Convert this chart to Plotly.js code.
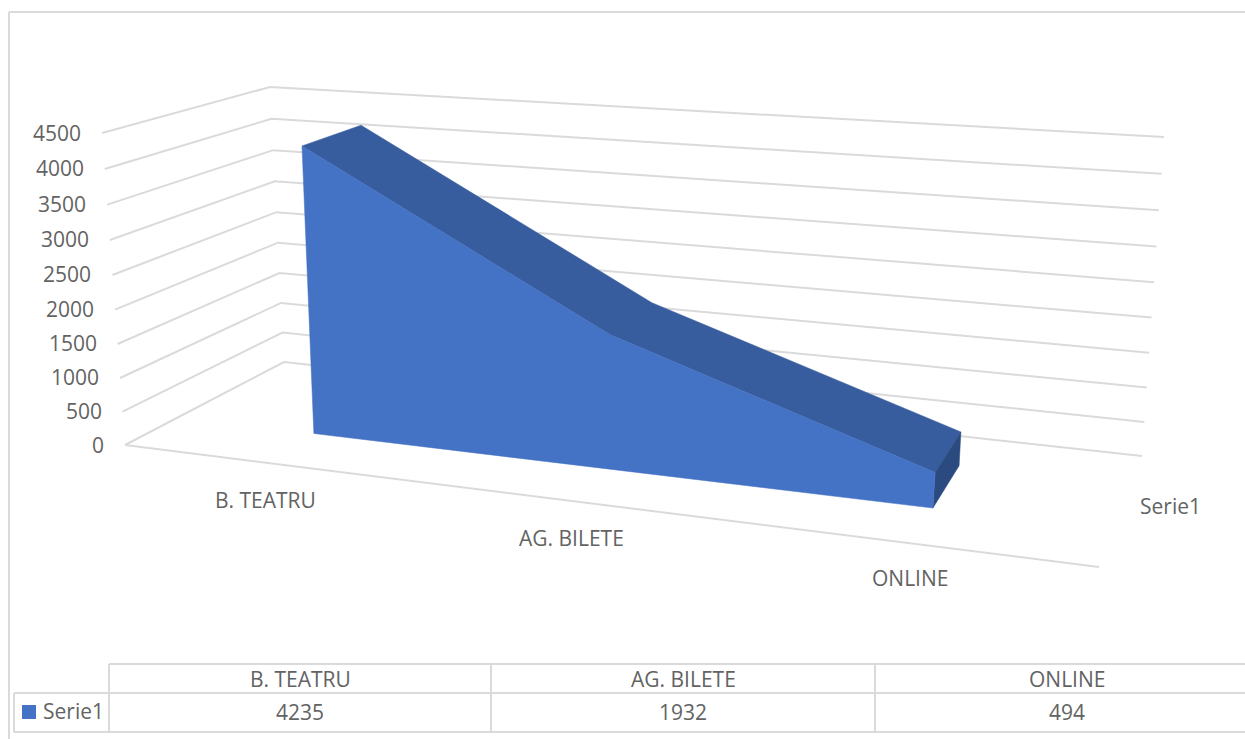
<!DOCTYPE html>
<html><head><meta charset="utf-8">
<script src="https://cdn.plot.ly/plotly-3.0.1.min.js"></script>
<style>html,body{margin:0;padding:0;background:#fff}#c{width:1245px;height:739px}</style>
</head><body><div id="c"></div>
<script>
// ---- data ----
const categories = ['B. TEATRU', 'AG. BILETE', 'ONLINE'];
const seriesName = 'Serie1';
const seriesValues = [4235, 1932, 494];
const valueTicks = [0, 500, 1000, 1500, 2000, 2500, 3000, 3500, 4000, 4500];

// ---- 3D box projection: (along, depth, value) -> page position ----
const axisMax = 4500;
const perspective = 0.043;
const floor = {fl:[125,445], fr:[1099,567], bl:[284,362], br:[1142,456]};
const up = {fl:[-23,-312], fr:[35,-360], bl:[-14,-275], br:[22,-319]};
const catAlong = [0.145, 0.46, 0.807];
const depthFront = 0.335, depthBack = 0.735;
function bil(q, c, d){
  return [0,1].map(i => (1-d)*((1-c)*q.fl[i] + c*q.fr[i]) + d*((1-c)*q.bl[i] + c*q.br[i]));
}
function project(c, d, v){
  const b = bil(floor, c, d), u = bil(up, c, d), r = v/axisMax, t = r - perspective*r*(1-r);
  return [b[0] + u[0]*t, b[1] + u[1]*t];
}
function poly(points){ return {x: points.map(p => p[0]), y: points.map(p => p[1])}; }

const gridColor = '#dadada', textColor = '#636363', font = '"Open Sans", "Noto Sans", sans-serif';
const traces = [];

// gridlines: front-left -> back-left -> back-right
valueTicks.forEach(v => {
  const p = poly([project(0,0,v), project(0,1,v), project(1,1,v)]);
  traces.push({type:'scatter', mode:'lines', x:p.x, y:p.y, hoverinfo:'skip',
    line:{color:gridColor, width:2}});
});
// floor front edge
{
  const p = poly([project(0,0,0), project(1,0,0)]);
  traces.push({type:'scatter', mode:'lines', x:p.x, y:p.y, hoverinfo:'skip', line:{color:gridColor, width:2}});
}
function face(points, color){
  const p = poly(points);
  traces.push({type:'scatter', mode:'lines', x:p.x.concat(p.x[0]), y:p.y.concat(p.y[0]),
    fill:'toself', fillcolor:color, line:{color:color, width:0.5}, hoverinfo:'skip'});
}
const n = seriesValues.length, last = n-1;
// top ribbon
face(seriesValues.map((v,i) => project(catAlong[i], depthFront, v))
  .concat(seriesValues.map((v,i) => project(catAlong[i], depthBack, v)).reverse()), '#385D9F');
// right end
face([project(catAlong[last],depthFront,0), project(catAlong[last],depthBack,0),
      project(catAlong[last],depthBack,seriesValues[last]), project(catAlong[last],depthFront,seriesValues[last])], '#2A4A80');
// front face
face([project(catAlong[0],depthFront,0)]
  .concat(seriesValues.map((v,i) => project(catAlong[i], depthFront, v)))
  .concat([project(catAlong[last],depthFront,0)]), '#4472C4');

// ---- text ----
const annotations = [];
function label(text, x, y, anchor, size){
  annotations.push({text, x, y, xref:'x', yref:'y', showarrow:false, xanchor:anchor||'center', yanchor:'middle',
    font:{family:font, size:size||21, color:textColor}});
}
valueTicks.forEach(v => {
  const p = project(0,0,v);
  label(String(v), p[0]-19, p[1]-0.5, 'right');
});
const catLabelPos = [[265,500],[571,538],[910,578]];
categories.forEach((c,i) => label(c, catLabelPos[i][0], catLabelPos[i][1]));
label(seriesName, 1170, 506);

// ---- data table ----
const colEdges = [109, 491, 875, 1258];
const rowTop = 664, rowMid = 693, rowBot = 732, tableLeft = 14;
const shapes = [];
function seg(x0,y0,x1,y1){
  shapes.push({type:'line', xref:'x', yref:'y', x0,y0,x1,y1, line:{color:gridColor, width:2}});
}
seg(9,12,9,739); seg(9,12,1245,12);
seg(colEdges[0],rowTop,1245,rowTop);
seg(tableLeft,rowMid,1245,rowMid);
seg(tableLeft,rowBot,1245,rowBot);
seg(tableLeft,rowMid,tableLeft,rowBot);
colEdges.slice(0,3).forEach(x => seg(x,rowTop,x,rowBot));
categories.forEach((c,i) => {
  const cx = (colEdges[i]+colEdges[i+1])/2;
  label(c, cx, (rowTop+rowMid)/2);
  label(String(seriesValues[i]), cx, (rowMid+rowBot)/2-1);
});
label(seriesName, 41, 711, 'left');
shapes.push({type:'rect', xref:'x', yref:'y', x0:22, x1:36, y0:705, y1:719, fillcolor:'#4472C4', line:{width:0}});

Plotly.newPlot('c', traces, {
  width:1245, height:739, margin:{l:0,r:0,t:0,b:0}, showlegend:false,
  paper_bgcolor:'#fff', plot_bgcolor:'#fff',
  xaxis:{range:[0,1245], visible:false, fixedrange:true},
  yaxis:{range:[739,0], visible:false, fixedrange:true},
  shapes, annotations
}, {displayModeBar:false, staticPlot:true});
</script></body></html>
